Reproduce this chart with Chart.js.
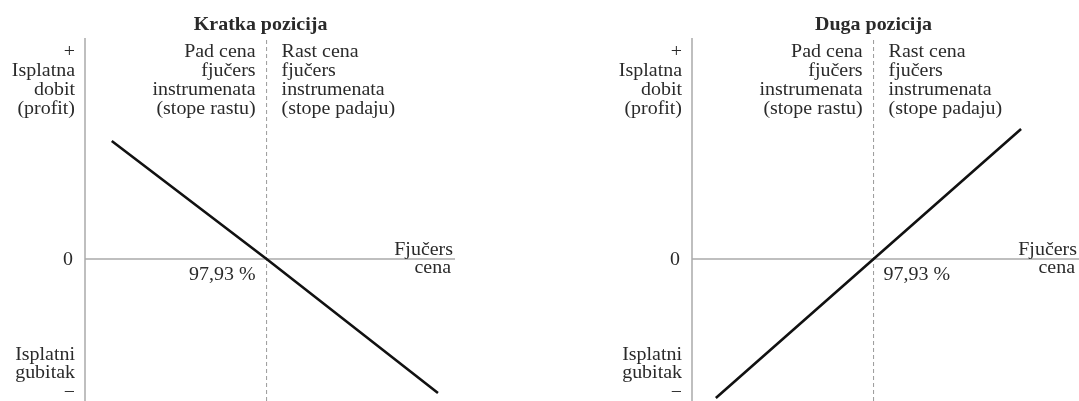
<!DOCTYPE html>
<html>
<head>
<meta charset="utf-8">
<script src="https://cdn.jsdelivr.net/npm/chart.js@4.4.1/dist/chart.umd.min.js"></script>
<style>
  body{margin:0;background:#fff}
  #wrap{position:relative;width:1079px;height:401px}
  #left{position:absolute;left:0;top:0}
  #right{position:absolute;left:540px;top:0}
</style>
</head>
<body>
<div id="wrap">
  <canvas id="left" width="540" height="401"></canvas>
  <canvas id="right" width="539" height="401"></canvas>
</div>
<script>
// breakeven futures price (%)
const breakeven = 97.93
const breakevenLabel = '97,93 %'

// short position payoff
const shortX = [94.75, 97.93, 101.45]
const shortY = [1.18, 0, -1.34]
// long position payoff
const longX = [94.69, 97.93, 100.96]
const longY = [-1.39, 0, 1.30]

const profitLabel = ['+', 'Isplatna', 'dobit', '(profit)']
const lossLabel = ['Isplatni', 'gubitak', '−']
const fallLabel = ['Pad cena', 'fjučers', 'instrumenata', '(stope rastu)']
const riseLabel = ['Rast cena', 'fjučers', 'instrumenata', '(stope padaju)']
const priceLabel = ['Fjučers', 'cena']

const FONT = '19px "Liberation Serif", serif'
const TITLE_FONT = 'bold 19px "Liberation Serif", serif'
const INK = '#2a2a2a'
const SX = 1.05

function txt(ctx, s, x, y, align){
    ctx.save()
    ctx.translate(x, y)
    ctx.scale(SX, 1)
    ctx.textAlign = align
    ctx.textBaseline = 'alphabetic'
    ctx.fillText(s, 0, 0)
    ctx.restore()
}

const payoffPlugin = {
    id: 'payoff',
    beforeDatasetsDraw(chart){
        const {ctx, chartArea: a, scales: {x, y}} = chart
        const zy = y.getPixelForValue(0)
        const bx = x.getPixelForValue(breakeven)
        ctx.save()
        ctx.strokeStyle = '#aaa'
        ctx.lineWidth = 1.5
        ctx.beginPath()
        ctx.moveTo(a.left, a.top); ctx.lineTo(a.left, a.bottom)
        ctx.moveTo(a.left, zy); ctx.lineTo(a.right, zy)
        ctx.stroke()
        ctx.lineWidth = 1
        ctx.strokeStyle = '#999'
        ctx.setLineDash([4, 3])
        ctx.beginPath()
        ctx.moveTo(bx, a.top + 2); ctx.lineTo(bx, a.bottom)
        ctx.stroke()
        ctx.restore()
    },
    afterDatasetsDraw(chart, args, opts){
        const {ctx, chartArea: a, scales: {x, y}} = chart
        const zy = y.getPixelForValue(0)
        const bx = x.getPixelForValue(breakeven)
        ctx.save()
        ctx.fillStyle = INK
        ctx.font = TITLE_FONT
        txt(ctx, opts.title, bx + opts.titleShift, a.top - 8, 'center')
        ctx.font = FONT
        profitLabel.forEach((s, i) => txt(ctx, s, a.left - 10, a.top + 19 + 19 * i, 'right'))
        fallLabel.forEach((s, i) => txt(ctx, s, bx - 11, a.top + 19 + 19 * i, 'right'))
        riseLabel.forEach((s, i) => txt(ctx, s, bx + 15, a.top + 19 + 19 * i, 'left'))
        lossLabel.forEach((s, i) => txt(ctx, s, a.left - 10, a.bottom - 41 + 18 * i + (i == 2 ? 2 : 0), 'right'))
        txt(ctx, '0', a.left - 12, zy + 6, 'right')
        if (opts.side === 'left') txt(ctx, breakevenLabel, bx - 11, zy + 21, 'right')
        else txt(ctx, breakevenLabel, bx + 10, zy + 21, 'left')
        txt(ctx, priceLabel[0], a.right - 2, zy - 4, 'right')
        txt(ctx, priceLabel[1], a.right - 4, zy + 14, 'right')
        ctx.restore()
    }
}

function makeChart(id, title, xs, ys, xMin, xMax, pad, side, titleShift){
    return new Chart(id, {
        type: 'line',
        data: {
            datasets: [{
                data: xs.map((v, i) => ({x: v, y: ys[i]})),
                borderColor: '#111',
                borderWidth: 2.6,
                pointRadius: 0,
                fill: false,
                tension: 0
            }]
        },
        options: {
            responsive: false,
            animation: false,
            layout: {padding: pad},
            plugins: {
                legend: {display: false},
                tooltip: {enabled: false},
                title: {display: false},
                payoff: {side: side, title: title, titleShift: titleShift}
            },
            scales: {
                x: {type: 'linear', display: false, min: xMin, max: xMax},
                y: {type: 'linear', display: false, min: -1.42, max: 2.21}
            }
        },
        plugins: [payoffPlugin]
    })
}

document.addEventListener('DOMContentLoaded', () => {
    makeChart('left', 'Kratka pozicija', shortX, shortY, 94.2, 101.8, {left: 85, right: 85, top: 38, bottom: 0}, 'left', -6)
    makeChart('right', 'Duga pozicija', longX, longY, 94.2, 102.15, {left: 152, right: 0, top: 38, bottom: 0}, 'right', 0)
})
</script>
</body>
</html>
